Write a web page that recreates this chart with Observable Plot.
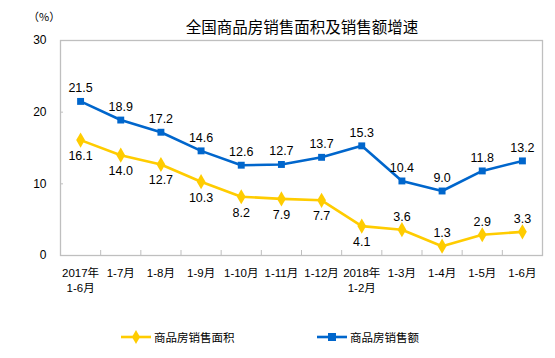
<!DOCTYPE html>
<html><head><meta charset="utf-8">
<script src="https://cdn.jsdelivr.net/npm/d3@7"></script>
<script src="https://cdn.jsdelivr.net/npm/@observablehq/plot@0.6"></script>
<style>
body{margin:0;background:#fff;}
#wrap{position:relative;width:555px;height:358px;font-family:"Liberation Sans","Noto Sans CJK SC",sans-serif;color:#000;}
#title{position:absolute;left:0;width:604px;top:16px;text-align:center;font-size:15.5px;line-height:20px;font-family:"Noto Sans CJK SC",sans-serif;}
#unit{position:absolute;left:28px;top:8px;font-size:11px;font-family:"Noto Sans CJK SC",sans-serif;}
.leg{position:absolute;top:329px;display:flex;align-items:center;font-size:11.5px;font-family:"Noto Sans CJK SC",sans-serif;}
.leg svg{margin-right:3px;}
</style></head>
<body><div id="wrap">
<div id="title"></div>
<div id="unit"></div>
<div id="legend"></div>
</div>
<script>
const categories = ["2017年\n1-6月","1-7月","1-8月","1-9月","1-10月","1-11月","1-12月","2018年\n1-2月","1-3月","1-4月","1-5月","1-6月"];
const areaGrowth = [16.1,14.0,12.7,10.3,8.2,7.9,7.7,4.1,3.6,1.3,2.9,3.3];
const salesGrowth = [21.5,18.9,17.2,14.6,12.6,12.7,13.7,15.3,10.4,9.0,11.8,13.2];
const yTicks = [0,10,20,30];
const seriesNames = ["商品房销售面积","商品房销售额"];
const titleText = "全国商品房销售面积及销售额增速";
const unitText = "（%）";

const yellow = "#FFCC00", blue = "#0066CC";
const idx = d3.range(categories.length);
const font = "'Liberation Sans','Noto Sans CJK SC',sans-serif";

document.getElementById("title").textContent = titleText;
document.getElementById("unit").textContent = unitText;

const chart = Plot.plot({
  width: 555, height: 358,
  marginLeft: 60, marginRight: 13, marginTop: 40, marginBottom: 103,
  style: {fontFamily: font, fontSize: "12px", color: "#000", background: "transparent"},
  x: {type: "linear", domain: [-0.5, categories.length - 0.5]},
  y: {domain: [0, 30]},
  marks: [
    Plot.frame({stroke: "#bfbfbf", strokeWidth: 1.3}),
    Plot.ruleY([10, 20], {x1: -0.5, x2: -0.5, insetRight: -3, stroke: "#bfbfbf"}),
    Plot.ruleX(idx.slice(1).map(i => i - 0.5), {y1: 0, y2: 0, insetTop: -5, stroke: "#bfbfbf"}),
    Plot.axisY(yTicks, {tickSize: 0, tickPadding: 14, fontSize: 12, label: null}),
    Plot.axisX(idx, {tickSize: 0, tickPadding: 11, fontSize: 11.5, lineHeight: 1.3, tickFormat: i => categories[i], label: null, fontFamily: font}),
    Plot.lineY(areaGrowth, {x: (d, i) => i, y: d => d, stroke: yellow, strokeWidth: 2.6}),
    Plot.lineY(salesGrowth, {x: (d, i) => i, y: d => d, stroke: blue, strokeWidth: 2.6}),
    Plot.dot(areaGrowth, {x: (d, i) => i, y: d => d, symbol: "diamond", r: 4.6, fill: yellow, stroke: null}),
    Plot.dot(salesGrowth, {x: (d, i) => i, y: d => d, symbol: "square", r: 3.9, fill: blue, stroke: null}),
    Plot.text(salesGrowth, {x: (d, i) => i, y: d => d, text: d => d.toFixed(1), dy: -13, fontSize: 12.5}),
    Plot.text(areaGrowth, {filter: (d, i) => i < 8, x: (d, i) => i, y: d => d, text: d => d.toFixed(1), dy: 16, fontSize: 12.5}),
    Plot.text(areaGrowth, {filter: (d, i) => i >= 8, x: (d, i) => i, y: d => d, text: d => d.toFixed(1), dy: -13, fontSize: 12.5})
  ]
});
document.getElementById("wrap").appendChild(chart);
chart.style.position = "absolute"; chart.style.left = "0"; chart.style.top = "0";

const legend = document.getElementById("legend");
const legItems = [
  {name: seriesNames[0], color: yellow, left: 121, shape: "diamond"},
  {name: seriesNames[1], color: blue, left: 317, shape: "square"}
];
for (const it of legItems) {
  const div = document.createElement("div");
  div.className = "leg";
  div.style.left = it.left + "px";
  const shape = it.shape === "diamond"
    ? `<path d="M15,1 L19,8 L15,15 L11,8 Z" fill="${it.color}"/>`
    : `<rect x="11" y="4" width="8" height="8" fill="${it.color}"/>`;
  div.innerHTML = `<svg width="30" height="16"><line x1="0" x2="30" y1="8" y2="8" stroke="${it.color}" stroke-width="2.6"/>${shape}</svg><span>${it.name}</span>`;
  legend.appendChild(div);
}
</script>
</body></html>
